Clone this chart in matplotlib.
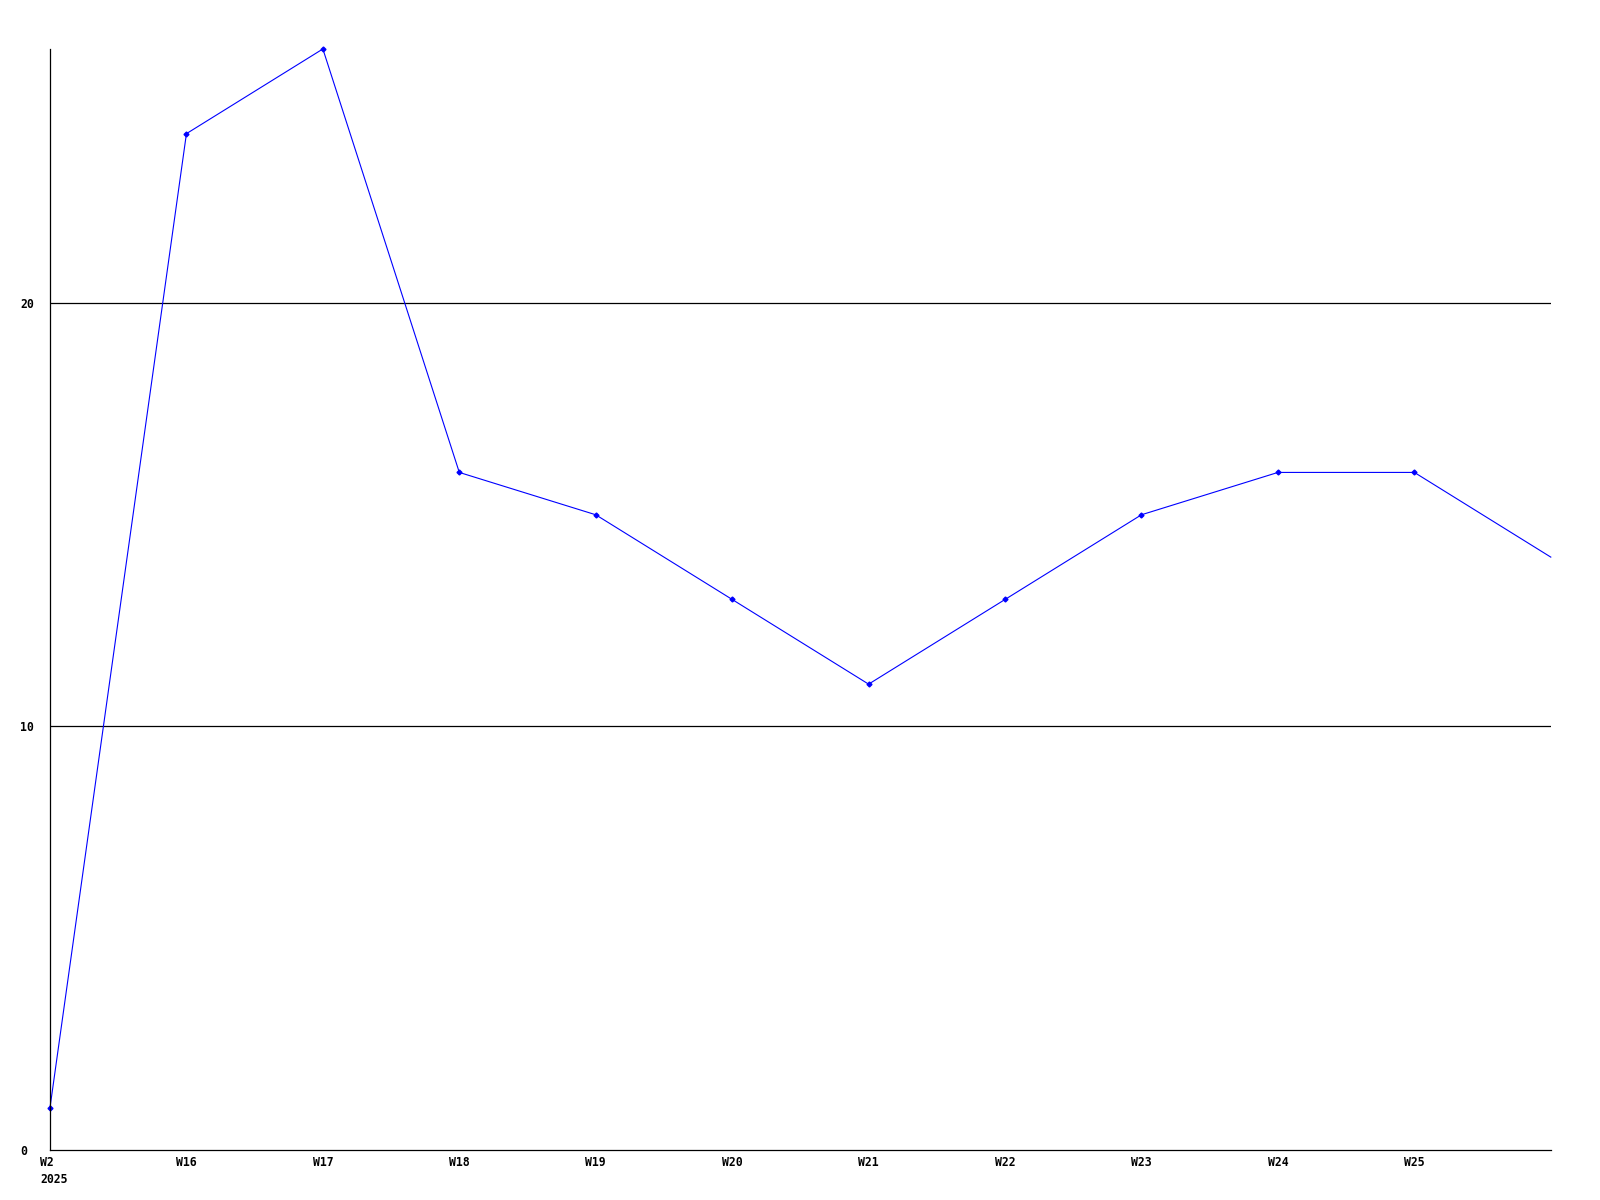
import matplotlib.pyplot as plt
from matplotlib.transforms import ScaledTranslation

weeks = ["W2", "W16", "W17", "W18", "W19", "W20", "W21", "W22", "W23", "W24", "W25", "W26"]
values = [1, 24, 26, 16, 15, 13, 11, 13, 15, 16, 16, 14]
year_label = "2025"
y_ticks = [0, 10, 20]

plt.rcParams['font.family'] = ['DejaVu Sans Mono']
plt.rcParams['font.weight'] = 'bold'
plt.rcParams['font.size'] = 8.3

fig = plt.figure(figsize=(16, 12), dpi=100)
ax = fig.add_axes([0.03125, 0.0417, 0.938, 0.9175])

x = list(range(len(weeks)))
ax.plot(x, values, color='#0000ff', linewidth=0.8, marker='D', markersize=2.5,
        markevery=list(range(len(values) - 1)), clip_on=False)

for v in y_ticks[1:]:
    ax.axhline(v, color='black', linewidth=0.9, zorder=0)

ax.set_xlim(0, len(weeks) - 1)
ax.set_ylim(0, 26)
ax.set_yticks(y_ticks)
ax.set_yticklabels([str(v) for v in y_ticks], ha='left')
ax.set_xticks(x[:-1])
labels = list(weeks[:-1])
labels[0] = labels[0] + "\n" + year_label
ax.set_xticklabels(labels)
ax.tick_params(axis='both', length=0)
ax.tick_params(axis='y', pad=21.5)
ax.tick_params(axis='x', pad=4.5)

# first label: week + year, left aligned a bit before the axis
first = ax.get_xticklabels()[0]
first.set_horizontalalignment('left')
first.set_linespacing(1.35)
first.set_transform(first.get_transform() + ScaledTranslation(-10 / 100, 0, fig.dpi_scale_trans))

for s in ['top', 'right']:
    ax.spines[s].set_visible(False)
for s in ['left', 'bottom']:
    ax.spines[s].set_linewidth(0.9)

fig.savefig('out.png', dpi=100)
